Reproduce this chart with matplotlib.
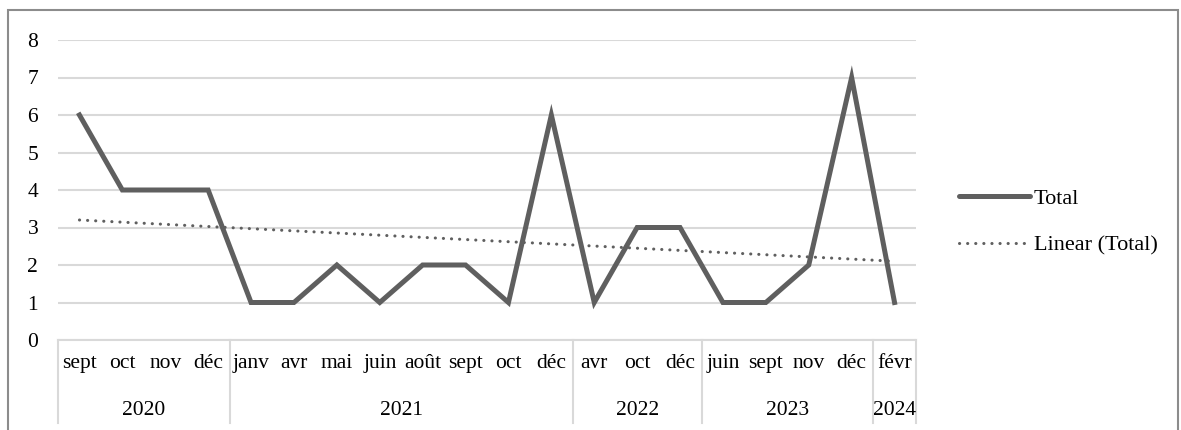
import numpy as np
import matplotlib
matplotlib.use('Agg')
import matplotlib.pyplot as plt
from matplotlib.lines import Line2D
from matplotlib.patches import Rectangle

# data
years = ['2020', '2021', '2022', '2023', '2024']
months = [
    ['sept', 'oct', 'nov', 'déc'],
    ['janv', 'avr', 'mai', 'juin', 'août', 'sept', 'oct', 'déc'],
    ['avr', 'oct', 'déc'],
    ['juin', 'sept', 'nov', 'déc'],
    ['févr'],
]
totals = [6, 4, 4, 4,
          1, 1, 2, 1, 2, 2, 1, 6,
          1, 3, 3,
          1, 1, 2, 7,
          1]

plt.rcParams['font.family'] = ['Liberation Serif', 'DejaVu Serif']

line_col = '#5f5f5f'
grid_col = '#d9d9d9'
fs = 15.5
dots = (0, (0.05, 2.6))

fig = plt.figure(figsize=(11.81, 4.30), dpi=100)
ax = fig.add_axes([58 / 1181, 1 - 340 / 430, (916 - 58) / 1181, 300 / 430])

x = np.arange(len(totals))
ax.plot(x, totals, color=line_col, lw=3.6, solid_joinstyle='miter', zorder=3)

# linear trend
k, b = np.polyfit(x, totals, 1)
ax.plot(x, k * x + b, color=line_col, lw=2.2, ls=dots,
        dash_capstyle='round', zorder=2)

ax.set_xlim(-0.5, len(totals) - 0.5)
ax.set_ylim(0, 8)
ax.set_yticks(range(0, 9))
ax.yaxis.grid(True, color=grid_col, lw=1.5)
ax.set_axisbelow(True)
ax.tick_params(axis='y', length=0, pad=22, labelsize=fs)
for lab in ax.get_yticklabels():
    lab.set_horizontalalignment('left')
ax.set_xticks([])
for s in ['top', 'right', 'left']:
    ax.spines[s].set_visible(False)
ax.spines['bottom'].set_color(grid_col)
ax.spines['bottom'].set_linewidth(1.5)

# hierarchical category axis
trans = ax.get_xaxis_transform()
pos = 0
bounds = [-0.5]
for yr, ms in zip(years, months):
    for i, m in enumerate(ms):
        ax.text(pos + i, -0.077, m, transform=trans, ha='center', va='center',
                fontsize=fs)
    ax.text(pos + (len(ms) - 1) / 2, -0.235, yr, transform=trans,
            ha='center', va='center', fontsize=fs)
    pos += len(ms)
    bounds.append(pos - 0.5)
for bx in bounds:
    ax.plot([bx, bx], [0, -0.275], transform=trans, color=grid_col, lw=1.5,
            clip_on=False)

# legend
handles = [Line2D([], [], color=line_col, lw=3.6, solid_capstyle='round'),
           Line2D([], [], color=line_col, lw=2.2, ls=dots,
                  dash_capstyle='round')]
fig.legend(handles, ['Total', 'Linear (Total)'], loc='center left',
           bbox_to_anchor=(948 / 1181, 1 - 222 / 430), frameon=False,
           fontsize=16, handlelength=3.2, handletextpad=0.15,
           labelspacing=1.15, borderpad=0)

# chart border
fig.patches.append(Rectangle((8 / 1181, -0.1), 1170 / 1181, 1.1 - 10 / 430,
                             transform=fig.transFigure, fill=False,
                             edgecolor='#8c8c8c', lw=1.5))

fig.savefig('out.png', dpi=100)
